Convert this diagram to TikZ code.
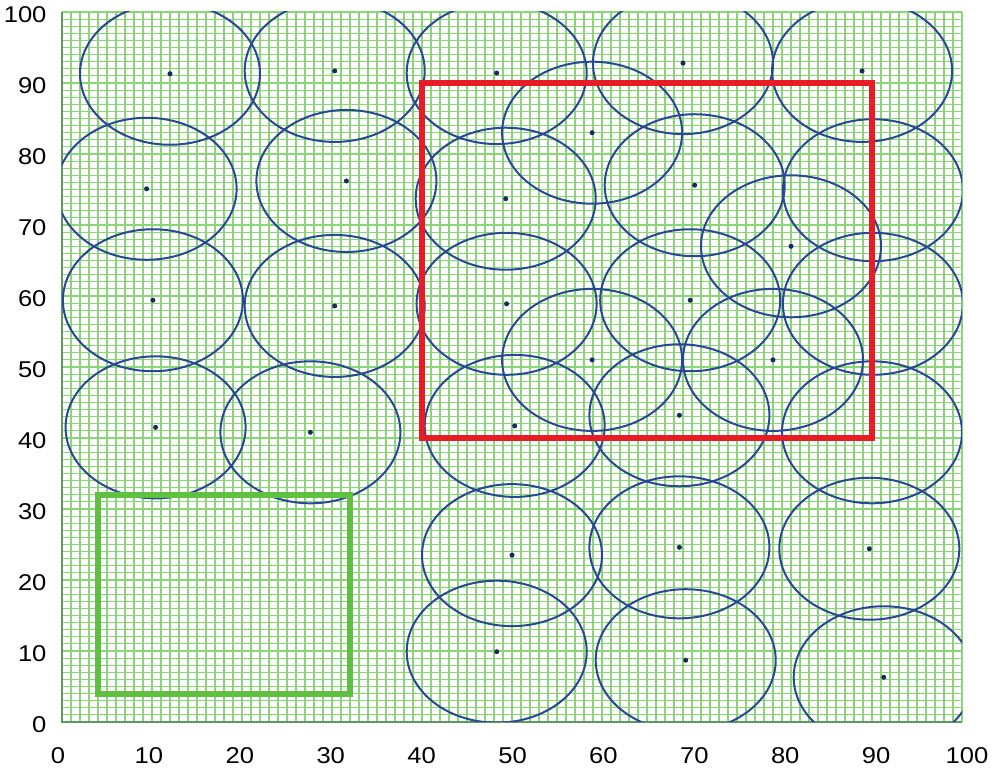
\documentclass[tikz,border=0pt]{standalone}
\usepackage{fontspec}
\setmainfont{Liberation Sans}
\usepackage{graphicx}
\definecolor{gridgreen}{RGB}{140,212,120}
\definecolor{framegreen}{RGB}{95,150,100}
\definecolor{sensorblue}{RGB}{40,72,150}
\definecolor{dotblue}{RGB}{25,40,95}
\definecolor{boxred}{RGB}{232,28,36}
\definecolor{boxgreen}{RGB}{95,192,65}
\begin{document}
\begin{tikzpicture}[x=0.27cm,y=0.213cm,
  gridline/.style={gridgreen, line width=0.95pt},
  frameline/.style={framegreen, line width=1.3pt},
  sensor/.style={sensorblue, line width=1.7pt},
  sdot/.style={fill=dotblue, circle, inner sep=0pt, minimum size=4.3pt},
  ticklabel/.style={font=\fontsize{19.5}{19.5}\selectfont, inner sep=0pt, text=black},
  regionbox/.style={line width=5pt}]
\useasboundingbox (-6.889,-6.761) rectangle (103.333,101.69);
\fill[white] (-6.889,-6.761) rectangle (103.333,101.69);
% grid
\foreach \i in {0,...,100} {
  \draw[gridline] (\i,0) -- (\i,100);
  \draw[gridline] (0,\i) -- (100,\i);
}
\coordinate (o) at (0,0);
\coordinate (tl) at (0,100);
\coordinate (br) at (100,0);
\draw[frameline] (tl) -- (o) -- (br);
% sensor positions
\foreach \n/\x/\y in {1/12.0/91.3, 2/30.3/91.7, 3/48.3/91.4, 4/69.0/92.8, 5/88.9/91.7,
  6/9.4/75.1, 7/31.6/76.2, 8/49.3/73.7, 9/58.9/83.0, 10/70.3/75.6, 11/81.0/67.0, 12/90.1/74.9,
  13/10.1/59.4, 14/30.3/58.6, 15/49.4/58.9, 16/69.8/59.4, 17/90.1/58.9, 18/58.9/51.0, 19/79.0/51.0,
  20/10.4/41.5, 21/27.6/40.8, 22/50.3/41.7, 23/68.6/43.2, 24/90.0/40.8,
  25/50.0/23.5, 26/68.6/24.6, 27/89.7/24.4,
  28/48.3/9.9, 29/69.3/8.7, 30/91.3/6.3} {
  \coordinate (s\n) at (\x,\y);
}
\begin{scope}
  \clip (0,0) rectangle (100,100);
  \foreach \n in {1,...,30} {
    \draw[sensor] (s\n) circle [x radius=2.7cm, y radius=2.13cm];
  }
\end{scope}
\foreach \n in {1,...,30} {
  \node[sdot] (d\n) at (s\n) {};
}
% region boxes
\coordinate (g1) at (4,4);
\coordinate (g2) at (32,32);
\coordinate (r1) at (40,40);
\coordinate (r2) at (90,90);
\draw[regionbox, boxgreen] (g1) rectangle (g2);
\draw[regionbox, boxred] (r1) rectangle (r2);
% tick labels
\foreach \v in {0,10,...,100} {
  \node[ticklabel, anchor=east] (yl\v) at (-1.7,\v-0.35) {\scalebox{1.12}[1]{\v}};
  \node[ticklabel] (xl\v) at ({1.01*\v-0.44},-4.8) {\scalebox{1.12}[1]{\v}};
}
\end{tikzpicture}
\end{document}
